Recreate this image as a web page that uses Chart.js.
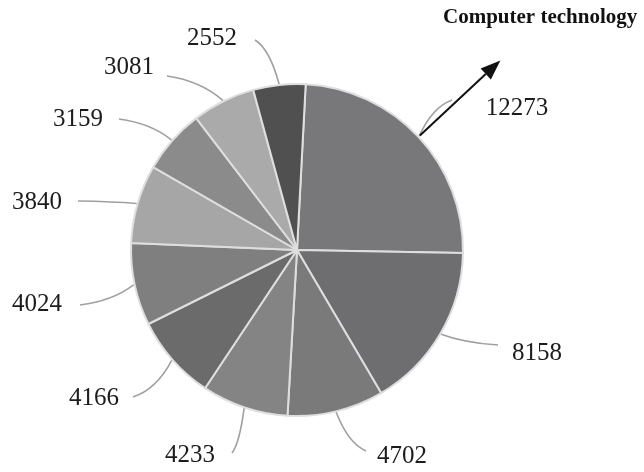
<!DOCTYPE html>
<html>
<head>
<meta charset="utf-8">
<script src="https://cdn.jsdelivr.net/npm/chart.js@4.4.1/dist/chart.umd.min.js"></script>
<style>
  html, body { margin: 0; padding: 0; background: #fff; }
  #wrap { width: 644px; height: 472px; position: relative; }
</style>
</head>
<body>
<div id="wrap"><canvas id="pizza" width="644" height="472"></canvas></div>
<script>
// valores de cada fatia, no sentido horário a partir do topo
const valores = [12273, 8158, 4702, 4233, 4166, 4024, 3840, 3159, 3081, 2552];
const rotulos = valores.map(v => String(v));
const cores = ['#78787a', '#6e6e70', '#7a7a7b', '#848484', '#6b6b6b',
               '#7f7f7f', '#a6a6a6', '#8b8b8b', '#aaaaaa', '#505050'];
const destaque = 'Computer technology';

// posição do texto de cada rótulo e fim da linha guia, relativos ao centro da pizza
const posTexto = [[220, -142], [240, 103], [105, 206], [-107, 205], [-203, 148],
                  [-260, 54], [-260, -48], [-219, -131], [-168, -183], [-85, -212]];
const fimGuia = [[155, -150], [201, 95], [69, 201], [-65, 203], [-164, 147],
                 [-217, 55], [-219, -49], [-178, -131], [-130, -174], [-42, -210]];

const canvas = document.getElementById('pizza');
const ctx = canvas.getContext('2d');

// linhas guia, números e a seta da primeira fatia
const rotulosPizza = {
    id: 'rotulosPizza',
    afterDraw(chart) {
        const c = chart.ctx;
        const arcos = chart.getDatasetMeta(0).data;
        if (!arcos.length) return;
        const cx = arcos[0].x;
        const cy = arcos[0].y;
        const raio = arcos[0].outerRadius;

        c.save();
        arcos.forEach((arco, i) => {
            const meio = (arco.startAngle + arco.endAngle) / 2;
            const ini = { x: cx + Math.cos(meio) * (raio + 1), y: cy + Math.sin(meio) * (raio + 1) };
            const fim = { x: cx + fimGuia[i][0], y: cy + fimGuia[i][1] };
            // curva suave: sai do texto quase na horizontal e dobra até a borda
            const ctrl = {
                x: fim.x + (ini.x - fim.x) * 0.6,
                y: fim.y + (ini.y - fim.y) * 0.2
            };

            c.beginPath();
            c.moveTo(ini.x, ini.y);
            c.quadraticCurveTo(ctrl.x, ctrl.y, fim.x, fim.y);
            c.strokeStyle = '#a0a0a0';
            c.lineWidth = 1.6;
            c.stroke();

            c.fillStyle = '#1c1c1c';
            c.font = '25px "Liberation Serif", "Times New Roman", serif';
            c.textAlign = 'center';
            c.textBaseline = 'middle';
            c.fillText(rotulos[i], cx + posTexto[i][0], cy + posTexto[i][1]);
        });

        // seta saindo da maior fatia
        const a0 = arcos[0];
        const m0 = (a0.startAngle + a0.endAngle) / 2;
        const dx = Math.cos(m0), dy = Math.sin(m0);
        const p1 = { x: cx + dx * (raio + 2), y: cy + dy * (raio + 2) };
        const p2 = { x: cx + dx * (raio + 112), y: cy + dy * (raio + 112) };
        const ponta = 20, abre = 7.5;
        const base = { x: p2.x - dx * ponta, y: p2.y - dy * ponta };

        c.beginPath();
        c.moveTo(p1.x, p1.y);
        c.lineTo(base.x, base.y);
        c.strokeStyle = '#111';
        c.lineWidth = 2;
        c.stroke();

        c.beginPath();
        c.moveTo(p2.x, p2.y);
        c.lineTo(base.x - dy * abre, base.y + dx * abre);
        c.lineTo(base.x + dy * abre, base.y - dx * abre);
        c.closePath();
        c.fillStyle = '#111';
        c.fill();

        c.font = 'bold 21px "Liberation Serif", "Times New Roman", serif';
        c.textAlign = 'left';
        c.textBaseline = 'middle';
        c.fillText(destaque, 443, 18);
        c.restore();
    }
};

new Chart(ctx, {
    type: 'pie',
    data: {
        labels: rotulos,
        datasets: [{
            data: valores,
            backgroundColor: cores,
            borderColor: '#dedede',
            borderWidth: 2,
            hoverOffset: 0
        }]
    },
    options: {
        responsive: false,
        animation: false,
        rotation: 3,
        layout: { padding: { top: 83, bottom: 55, left: 130, right: 180 } },
        plugins: {
            legend: { display: false },
            tooltip: { enabled: false }
        }
    },
    plugins: [rotulosPizza]
});
</script>
</body>
</html>
